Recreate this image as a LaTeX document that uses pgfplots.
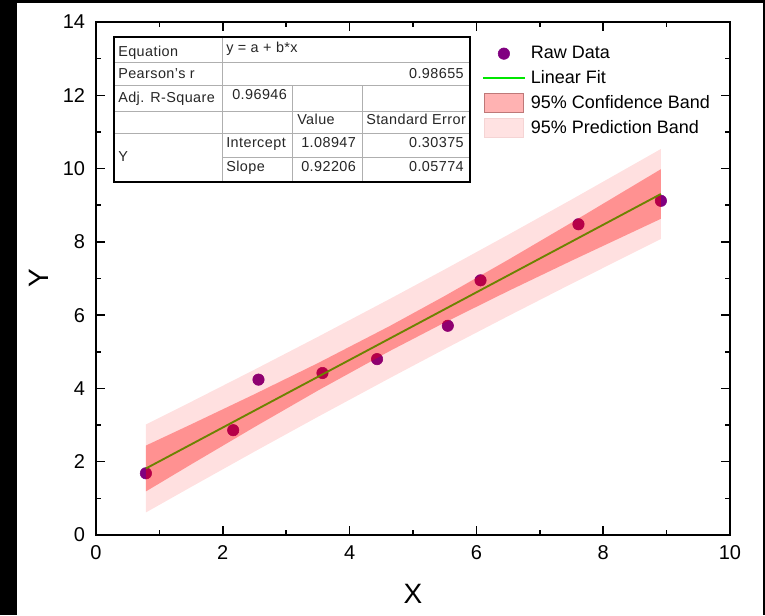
\documentclass[border=0pt]{standalone}
\usepackage{fontspec}
\setmainfont{Liberation Sans}
\usepackage{pgfplots}
\pgfplotsset{compat=1.18}

\definecolor{rawpurple}{RGB}{128,0,128}
\definecolor{fitgreen}{RGB}{0,230,0}
\definecolor{cellline}{RGB}{175,175,175}
\definecolor{cifill}{RGB}{255,178,178}
\definecolor{ciedge}{RGB}{190,120,120}
\definecolor{pifill}{RGB}{255,226,226}
\definecolor{piedge}{RGB}{245,212,212}

\begin{document}
\begin{tikzpicture}
% frame of the screenshot (1 unit = 1 px, origin top left)
\begin{scope}[x=0.75pt,y=-0.75pt,yshift=461.25pt]
  \fill[black] (0,0) rectangle (765,615);
  \fill[white] (17,3) rectangle (763,615);
  \useasboundingbox (0,0) rectangle (765,615);
\end{scope}

\begin{axis}[
    at={(72pt,60pt)}, anchor=south west,
    width=475.5pt, height=384.75pt, scale only axis,
    xmin=0, xmax=10, ymin=0, ymax=14,
    xtick={0,2,...,10}, ytick={0,2,...,14},
    minor tick num=1,
    tick align=inside,
    major tick length=7pt, minor tick length=4pt,
    every tick/.append style={black, line width=1.1pt},
    axis line style={line width=1.2pt},
    ticklabel style={font=\fontsize{15}{18}\selectfont, inner sep=0pt},
    yticklabel style={xshift=-8pt},
    xticklabel style={yshift=-7.5pt},
    /pgf/number format/assume math mode=true,
    clip marker paths=true,
    xlabel={X}, ylabel={Y},
    label style={font=\fontsize{21}{25}\selectfont},
    xlabel style={at={(axis description cs:0.5,-0.115)}, anchor=center},
    ylabel style={at={(axis description cs:-0.09,0.5)}, anchor=center},
    legend cell align=left,
    legend style={at={(rel axis cs:0.6088,0.957)}, anchor=north west,
        draw=none, fill=none, inner sep=0pt,
        font=\fontsize{13.5}{16}\selectfont, row sep=4.25pt,
        nodes={inner sep=0pt},
        /tikz/every odd column/.append style={column sep=4pt}},
]

% raw data
\addplot[only marks, mark=*, mark size=4.3pt, color=rawpurple,
    legend image code/.code={
        \path[draw=none, fill=none] (0pt,-7pt) rectangle (29pt,7pt);
        \fill[rawpurple] (14.5pt,0pt) circle (4.3pt);}]
    coordinates {
    (0.787,1.684)(2.164,2.86)(2.563,4.24)(3.572,4.42)(4.433,4.80)
    (5.549,5.71)(6.065,6.95)(7.61,8.48)(8.91,9.12)
    };
\addlegendentry{Raw Data}

% linear fit y = 1.08947 + 0.92206 x
\addplot[fitgreen, line width=1.4pt,
    legend image code/.code={
        \path[draw=none, fill=none] (0pt,-7pt) rectangle (29pt,7pt);
        \draw[fitgreen, line width=1.5pt] (-1pt,0pt) -- (30pt,0pt);}]
    coordinates {(0.787,1.815)(8.91,9.306)};
\addlegendentry{Linear Fit}

% 95% confidence band
\addplot[draw=none, fill=red, fill opacity=0.35,
    legend image code/.code={
        \draw[fill=cifill, draw=ciedge, fill opacity=1, line width=0.6pt]
            (0pt,-7pt) rectangle (29pt,7pt);}]
    coordinates {
    (0.787,2.441)(1.5,3.019)(2.5,3.843)(3.5,4.691)(4.628,5.698)
    (5.5,6.523)(6.5,7.510)(7.5,8.525)(8.91,9.983)
    (8.91,8.629)(7.5,7.485)(6.5,6.656)(5.5,5.799)(4.628,5.016)
    (3.5,3.942)(2.5,2.946)(1.5,1.926)(0.787,1.189)
    } -- cycle;
\addlegendentry{95\% Confidence Band}

% 95% prediction band
\addplot[draw=none, fill=red, fill opacity=0.12,
    legend image code/.code={
        \draw[fill=pifill, draw=piedge, fill opacity=1, line width=0.6pt]
            (0pt,-7pt) rectangle (29pt,7pt);}]
    coordinates {
    (0.787,3.016)(1.5,3.634)(2.5,4.513)(3.5,5.408)(4.628,6.437)
    (5.5,7.247)(6.5,8.193)(7.5,9.154)(8.91,10.534)
    (8.91,8.078)(7.5,6.856)(6.5,5.973)(5.5,5.075)(4.628,4.277)
    (3.5,3.226)(2.5,2.276)(1.5,1.311)(0.787,0.615)
    } -- cycle;
\addlegendentry{95\% Prediction Band}
\end{axis}

% fit results table
\begin{scope}[x=0.75pt,y=-0.75pt,yshift=461.25pt,
    every node/.style={inner sep=0pt, text=black!85,
        font=\fontsize{10.8}{12}\selectfont\addfontfeatures{LetterSpace=3}}]
  \fill[white] (114,37) rectangle (470,182);
  \draw[cellline, line width=0.75pt]
    (114,63) -- (470,63) (114,86) -- (470,86)
    (114,112) -- (470,112) (114,134) -- (470,134)
    (222,158) -- (470,158)
    (222,37) -- (222,182) (292,86) -- (292,182) (362,86) -- (362,182);
  \draw[black, line width=1.1pt] (114,37) rectangle (470,182);
  \node[anchor=base west] at (118,56.5) {Equation};
  \node[anchor=base west] at (226,53) {y = a + b*x};
  \node[anchor=base west] at (118,78.5) {Pearson's r};
  \node[anchor=base east] at (464,78.5) {0.98655};
  \node[anchor=base west] at (118,103) {Adj. R-Square};
  \node[anchor=base west] at (232,100) {0.96946};
  \node[anchor=base west] at (297,125) {Value};
  \node[anchor=base west] at (366,125) {Standard Error};
  \node[anchor=base west] at (118,162) {Y};
  \node[anchor=base west] at (226,148) {Intercept};
  \node[anchor=base west] at (301,148) {1.08947};
  \node[anchor=base east] at (464,148) {0.30375};
  \node[anchor=base west] at (226,172) {Slope};
  \node[anchor=base west] at (301,172) {0.92206};
  \node[anchor=base east] at (464,172) {0.05774};
\end{scope}
\end{tikzpicture}
\end{document}
